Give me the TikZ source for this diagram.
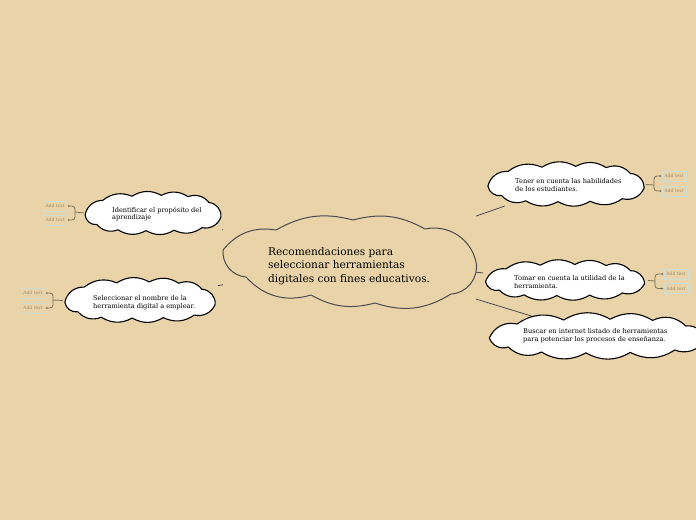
\documentclass[tikz,border=0pt]{standalone}
\usepackage{fontspec}
\setmainfont{DejaVu Serif}
\usetikzlibrary{arrows.meta}
\definecolor{bg}{RGB}{232,212,168}
\definecolor{cline}{RGB}{75,75,80}
\definecolor{boxc}{RGB}{208,222,210}
\definecolor{addc}{RGB}{160,140,110}
\definecolor{brc}{RGB}{125,110,85}
\tikzset{
  cloudbox/.style={rectangle, inner sep=0pt, outer sep=0pt},
  maincl/.style={draw=cline, line width=1pt, fill=bg, line join=round},
  subcl/.style={draw=black, line width=1.1pt, fill=white, line join=round},
  maintext/.style={align=left, inner sep=0pt, font=\fontsize{10.6}{13.3}\selectfont, text=black},
  subtext/.style={align=left, inner sep=0pt, font=\fontsize{6.6}{7.7}\selectfont, text=black},
  addbox/.style={draw=boxc, line width=1pt, fill=bg, minimum width=24pt, minimum height=10pt, inner sep=0pt, font=\fontsize{4.5}{5}\selectfont, text=addc},
  link/.style={draw=cline, line width=0.8pt},
  bracket/.style={draw=brc, line width=0.8pt, rounded corners=3pt},
  brarrow/.style={bracket, -{Stealth[length=2pt,width=2pt]}}
}
% #1 cx, #2 cy, #3 half width, #4 half height
\newcommand\subcloud[4]{%
  \path[subcl] ({#1-0.97*#3},{#2+0.1*#4})
    \foreach \u/\v/\b in {-0.72/-0.6/40, -0.3/-0.8/30, 0.12/-0.84/30, 0.5/-0.78/30,
        0.8/-0.5/35, 0.97/0.2/45, 0.7/0.7/40, 0.3/0.82/30, -0.1/0.84/30,
        -0.5/0.8/30, -0.8/0.55/35, -0.97/0.1/45}
      { to[bend left=\b] ({#1+\u*#3},{#2+\v*#4}) } -- cycle;
}
\begin{document}
\begin{tikzpicture}[x=1pt,y=-1pt]
\fill[bg] (0,0) rectangle (696,520);
\useasboundingbox (0,0) rectangle (696,520);
\clip (0,0) rectangle (696,520);
% cloud frames (named, invisible)
\node[cloudbox, minimum width=253pt, minimum height=92pt] (c) at (349.5,260.5) {};
\node[cloudbox, minimum width=160pt, minimum height=43pt] (s1) at (566,184.5) {};
\node[cloudbox, minimum width=165pt, minimum height=37pt] (s2) at (565.5,280.5) {};
\node[cloudbox, minimum width=222pt, minimum height=40pt] (s3) at (597,336) {};
\node[cloudbox, minimum width=138pt, minimum height=42pt] (s4) at (153,213) {};
\node[cloudbox, minimum width=155pt, minimum height=43pt] (s5) at (140.5,300.5) {};
% central cloud
\path[maincl] (223,250) to[bend left=30] (276,230) to[bend left=22] (353,220)
  to[bend left=22] (425,229) to[bend left=45] (476,262)
  to[bend left=50] (451,294) to[bend left=25] (375,303) to[bend left=22] (311,295)
  to[bend left=32] (246,277) to[bend left=45] (223,250) -- cycle;
% sub clouds
\subcloud{566}{184}{80.5}{21}
\subcloud{565}{280}{82}{18.5}
\subcloud{597}{336}{111}{20}
\subcloud{153}{213}{70}{21}
\subcloud{140}{300}{77.5}{21.5}
% links from center
\draw[link] (c) -- (s1);
\draw[link] (c) -- (s2);
\draw[link] (c) -- (s3);
\draw[link] (c) -- (s4);
\draw[link] (c) -- (s5);
% texts
\node[maintext, anchor=west] (ct) at (268,266) {Recomendaciones para\\seleccionar herramientas\\digitales con fines educativos.};
\node[subtext, anchor=west] (t1) at (515,185) {Tener en cuenta las habilidades\\de los estudiantes.};
\node[subtext, anchor=west] (t2) at (514,282) {Tomar en cuenta la utilidad de la\\herramienta.};
\node[subtext, anchor=west] (t3) at (523,336) {Buscar en internet listado de herramientas\\para potenciar los procesos de enseñanza.};
\node[subtext, anchor=west] (t4) at (112,214) {Identificar el propósito del\\aprendizaje};
\node[subtext, anchor=west] (t5) at (93,303) {Seleccionar el nombre de la\\herramienta digital a emplear.};
% add text boxes
\node[addbox] (a1) at (674,176) {Add text};
\node[addbox] (a2) at (674,191) {Add text};
\node[addbox] (a3) at (676,274) {Add text};
\node[addbox] (a4) at (676,288.5) {Add text};
\node[addbox] (a5) at (55,206) {Add text};
\node[addbox] (a6) at (55,220) {Add text};
\node[addbox] (a7) at (33,293) {Add text};
\node[addbox] (a8) at (33,308) {Add text};
% brackets
\coordinate (j1) at (654,185);
\coordinate (j2) at (655,281);
\coordinate (j3) at (75,212);
\coordinate (j4) at (53,300);
\draw[bracket] (s1.east) -- (j1);
\draw[brarrow] (j1) |- (a1.west);
\draw[brarrow] (j1) |- (a2.west);
\draw[bracket] (s2.east) -- (j2);
\draw[brarrow] (j2) |- (a3.west);
\draw[brarrow] (j2) |- (a4.west);
\draw[bracket] (s4.west) -- (j3);
\draw[brarrow] (j3) |- (a5.east);
\draw[brarrow] (j3) |- (a6.east);
\draw[bracket] (s5.west) -- (j4);
\draw[brarrow] (j4) |- (a7.east);
\draw[brarrow] (j4) |- (a8.east);
\end{tikzpicture}
\end{document}
